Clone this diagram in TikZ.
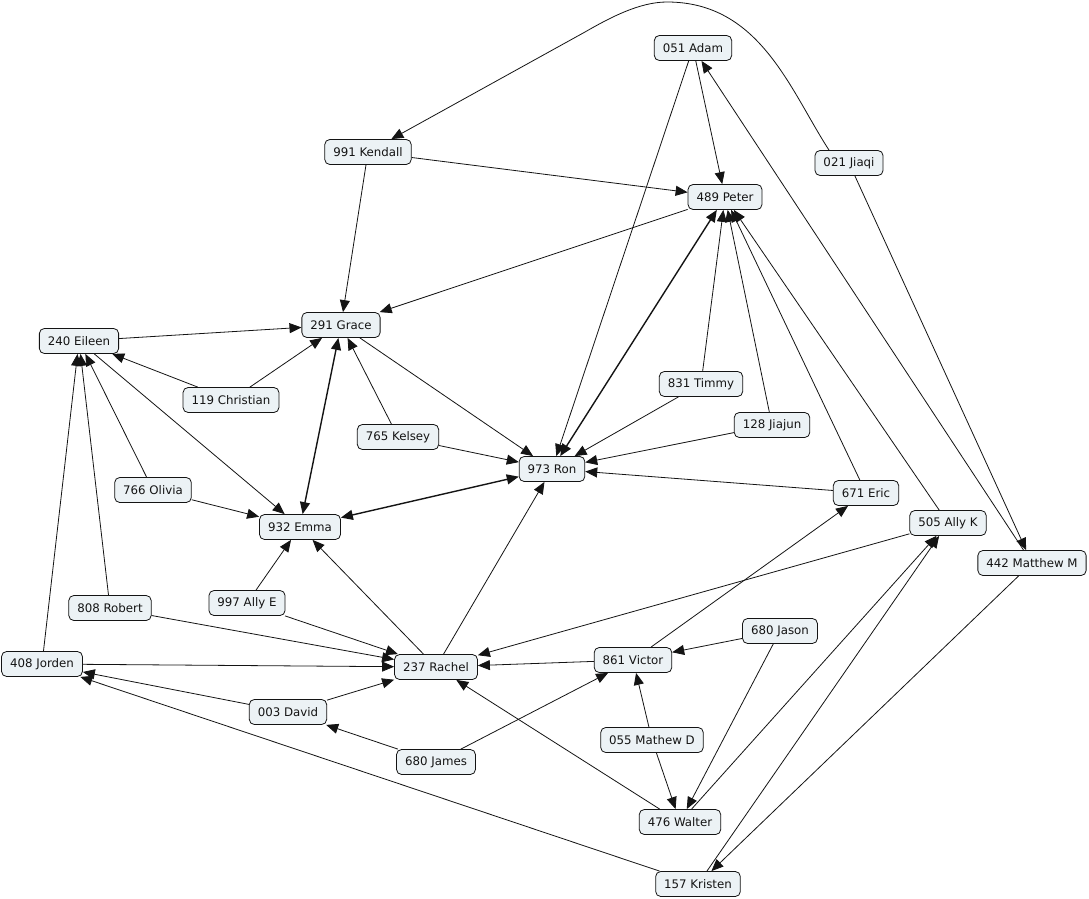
\documentclass[tikz,border=0pt]{standalone}
\usepackage{fontspec}
\setmainfont{DejaVu Sans}
\usetikzlibrary{arrows.meta}
\definecolor{nodefill}{RGB}{236,242,245}
\definecolor{inkc}{RGB}{20,20,20}
\begin{document}
\begin{tikzpicture}[x=1pt,y=-1pt,
  box/.style={draw=inkc, rounded corners=5pt, fill=nodefill, line width=0.8pt,
    minimum height=25pt, inner xsep=8.5pt, inner ysep=2pt,
    font=\fontsize{11.8}{13}\selectfont, text=inkc},
  link/.style={draw=inkc, line width=0.8pt, -{Triangle[length=12pt,width=10pt]}},
  dlink/.style={draw=inkc, line width=1.4pt, {Triangle[length=12pt,width=10pt]}-{Triangle[length=12pt,width=10pt]}}]
\useasboundingbox[fill=white] (0,0) rectangle (1089,899);

% nodes
\node[box] (adam)     at (693,48)  {051 Adam};
\node[box] (kendall)  at (368,152) {991 Kendall};
\node[box] (jiaqi)    at (849,163) {021 Jiaqi};
\node[box] (peter)    at (725,197) {489 Peter};
\node[box] (grace)    at (341,325) {291 Grace};
\node[box] (eileen)   at (79,341)  {240 Eileen};
\node[box] (christian) at (231,400) {119 Christian};
\node[box] (timmy)    at (701,384) {831 Timmy};
\node[box] (kelsey)   at (398,437) {765 Kelsey};
\node[box] (jiajun)   at (772,425) {128 Jiajun};
\node[box] (ron)      at (552,469) {973 Ron};
\node[box] (olivia)   at (153,490) {766 Olivia};
\node[box] (eric)     at (866,493) {671 Eric};
\node[box] (emma)     at (300,527) {932 Emma};
\node[box] (allyk)    at (948,523) {505 Ally K};
\node[box] (matthewm) at (1032,563) {442 Matthew M};
\node[box] (allye)    at (247,603) {997 Ally E};
\node[box] (robert)   at (110,608) {808 Robert};
\node[box] (jason)    at (780,631) {680 Jason};
\node[box] (jorden)   at (42,664)  {408 Jorden};
\node[box] (rachel)   at (436,667) {237 Rachel};
\node[box] (victor)   at (633,660) {861 Victor};
\node[box] (david)    at (288,712) {003 David};
\node[box] (mathewd)  at (652,740) {055 Mathew D};
\node[box] (james)    at (436,762) {680 James};
\node[box] (walter)   at (680,822) {476 Walter};
\node[box] (kristen)  at (698,884) {157 Kristen};

% connectors
\draw[link] ([xshift=-20pt]jiaqi.north) .. controls (790,90) and (760,2) .. (667,2)
  .. controls (640,2) and (611,17) .. (585,32) -- (kendall);
\draw[link] (kendall) -- (peter);
\draw[link] (kendall) -- (grace);
\draw[link] (adam) -- (peter);
\draw[link] (adam) -- (ron);
\draw[link] (matthewm) -- (adam);
\draw[link] (jiaqi) -- (matthewm);
\draw[link] (peter) -- (grace);
\draw[dlink] (ron) -- (peter);
\draw[link] (timmy) -- (peter);
\draw[link] (jiajun) -- (peter);
\draw[link] (eric) -- (peter);
\draw[link] (allyk) -- (peter);
\draw[link] (timmy) -- (ron);
\draw[link] (jiajun) -- (ron);
\draw[link] (eric) -- (ron);
\draw[link] (grace) -- (ron);
\draw[link] (kelsey) -- (ron);
\draw[link] (kelsey) -- (grace);
\draw[dlink] (emma) -- (ron);
\draw[dlink] (emma) -- (grace);
\draw[link] (eileen) -- (grace);
\draw[link] (christian) -- (grace);
\draw[link] (christian) -- (eileen);
\draw[link] (eileen) -- (emma);
\draw[link] (olivia) -- (emma);
\draw[link] (olivia) -- (eileen);
\draw[link] (robert) -- (eileen);
\draw[link] (jorden) -- (eileen);
\draw[link] (allye) -- (emma);
\draw[link] (rachel) -- (emma);
\draw[link] (rachel) -- (ron);
\draw[link] (robert) -- (rachel);
\draw[link] (allye) -- (rachel);
\draw[link] (jorden) -- (rachel);
\draw[link] (david) -- (rachel);
\draw[link] (david) -- (jorden);
\draw[link] (kristen) -- (jorden);
\draw[link] (james) -- (david);
\draw[link] (james) -- (victor);
\draw[link] (victor) -- (rachel);
\draw[link] (allyk) -- (rachel);
\draw[link] (walter) -- (rachel);
\draw[link] (victor) -- (eric);
\draw[link] (jason) -- (victor);
\draw[link] (jason) -- (walter);
\draw[link] (mathewd) -- (victor);
\draw[link] (mathewd) -- (walter);
\draw[link] (walter) -- (allyk);
\draw[link] (kristen) -- (allyk);
\draw[link] (matthewm) -- (kristen);
\end{tikzpicture}
\end{document}
